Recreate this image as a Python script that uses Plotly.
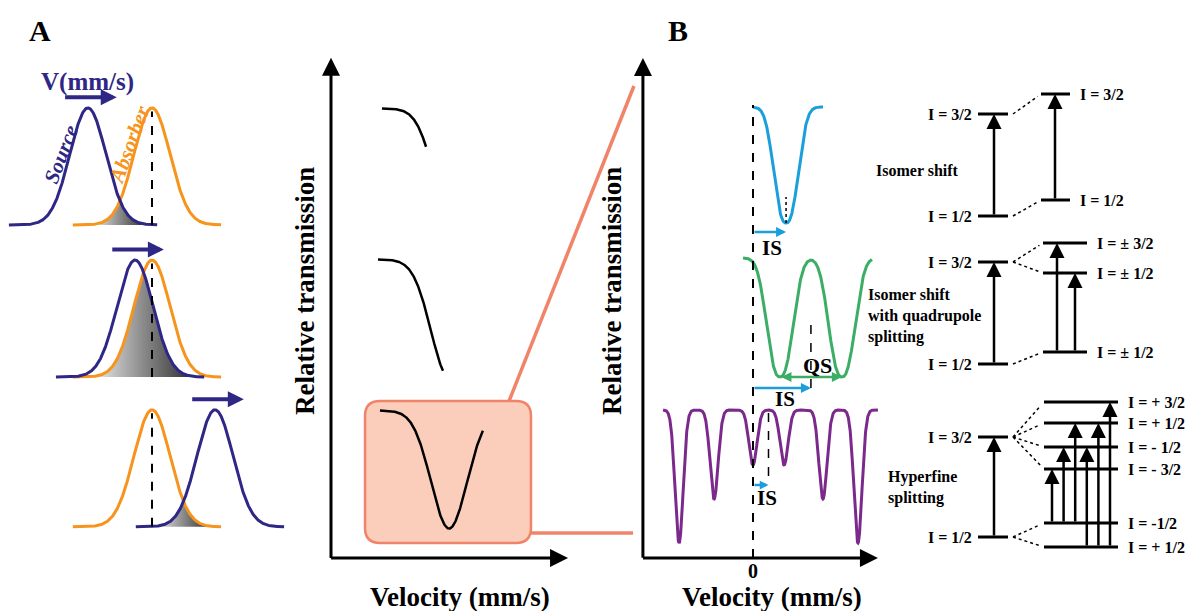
import numpy as np
import plotly.graph_objects as go

W, H = 1185, 611
SERIF = "Liberation Serif"

NAVY = "#2e2785"
ORANGE = "#f7941d"
SKY = "#1a9fdb"
GREEN = "#3cad64"
PURPLE = "#7b2a8c"
SALMON_FILL = "#fbcdbb"
SALMON_LINE = "#f08468"

# ---------------- Panel A: source / absorber line profiles (units of sigma)
PROFILE_SIGMA = 1.0
ABSORBER_CENTER = 0.0
SOURCE_CENTERS = [-3.56, -0.94, 3.50]
ROW_BASELINES = [3.30, 2.00, 0.72]
PROFILE_SPAN = (-4.4, 3.85)

# ---------------- Middle: transmission while the source velocity sweeps
SWEEP_BASELINES = [3.81, 2.53, 1.25]
SWEEP_CENTERS = [6.78, 6.56, 6.56]
SWEEP_STARTS = [2.83, 2.61, 2.72]
SWEEP_ENDS = [5.28, 6.22, 8.44]
SWEEP_DEPTH = 1.0
SWEEP_WIDTH = 1.0

# ---------------- Panel B: Moessbauer spectra (mm/s)
SINGLET_IS, SINGLET_DEPTH, SINGLET_BASE, SINGLET_HWHM = 1.89, 1.16, 4.51, 0.76
SINGLET_RANGE = (0.0, 4.0)
DOUBLET_IS, DOUBLET_QS, DOUBLET_DEPTH, DOUBLET_BASE, DOUBLET_HWHM = 3.31, 3.54, 1.19, 3.00, 0.82
DOUBLET_RANGE = (-0.57, 6.8)
SEXTET_IS, SEXTET_BASE, SEXTET_WIDTH = 0.886, 1.48, 0.23
SEXTET_OFFSETS = [-5.11, -3.11, -0.89, 0.89, 3.11, 5.11]
SEXTET_DEPTHS = [1.33, 0.89, 0.55, 0.55, 0.89, 1.33]
SEXTET_RANGE = (-5.14, 7.14)

# ---------------- Nuclear energy levels (arbitrary energy units)
DIAGRAMS = [
    dict(title="Isomer shift", ground=34.4, excited=44.6,
         split_ground=[36.0], ground_labels=["I = 1/2"],
         split_excited=[46.6], excited_labels=["I = 3/2"],
         transitions=[(0, 0)]),
    dict(title="Isomer shift<br>with quadrupole<br>splitting", ground=19.6, excited=29.8,
         split_ground=[20.8], ground_labels=["I = ± 1/2"],
         split_excited=[31.7, 28.7], excited_labels=["I = ± 3/2", "I = ± 1/2"],
         transitions=[(0, 0), (0, 1)]),
    dict(title="Hyperfine<br>splitting", ground=2.3, excited=12.3,
         split_ground=[3.7, 1.3], ground_labels=["I = -1/2", "I = + 1/2"],
         split_excited=[15.8, 13.7, 11.3, 9.1],
         excited_labels=["I = + 3/2", "I = + 1/2", "I = - 1/2", "I = - 3/2"],
         transitions=[(0, 3), (0, 2), (0, 1), (1, 2), (1, 1), (1, 0)]),
]

# ---------------- layout geometry (pixel origin and pixels per unit of each frame)
FRAMES = {
    "x": (152, 18.0), "y": (611, 117.0),     # panel A
    "x2": (331, 18.0), "y2": (558, 118.0),   # middle sweep
    "x3": (753, 17.5), "y3": (558, 100.0),   # panel B
    "x4": (860, 10.0), "y4": (560, 10.0),    # level diagrams
}
DIAGRAM_LAYOUT = [
    dict(right=(18.1, 21.0), first=1.4, step=1.8, title_x=1.4, title_y=39.0),
    dict(right=(18.3, 22.7), first=1.4, step=1.8, title_x=0.6, title_y=24.4),
    dict(right=(18.4, 25.8), first=0.8, step=1.16, title_x=2.6, title_y=7.3),
]
LEFT_SPAN = (11.8, 14.8)


def paper(px, py):
    return px / W, 1 - py / H


def gauss(x, c, s):
    return np.exp(-0.5 * ((x - c) / s) ** 2)


def flat_dip(x, c, hwhm, p=2.5):
    # line shape with flatter shoulders than a Gaussian
    return 2.0 ** (-(np.abs(x - c) / hwhm) ** p)


fig = go.Figure()


def line(x, y, ax, color="black", width=2.5, dash=None, **kw):
    fig.add_trace(go.Scatter(x=x, y=y, mode="lines", xaxis=ax[0], yaxis=ax[1],
                             line=dict(color=color, width=width, dash=dash),
                             hoverinfo="skip", showlegend=False, **kw))


annotations = []


def text(t, x, y, ref, size=16, color="black", **kw):
    d = dict(text=t, x=x, y=y, showarrow=False, xanchor="center", yanchor="middle",
             font=dict(family=SERIF, size=size, color=color))
    if ref == "paper":
        d.update(xref="paper", yref="paper")
    else:
        d.update(xref=ref[0], yref=ref[1])
    d.update(kw)
    annotations.append(d)


def arrow(x0, y0, x1, y1, ref, color="black", width=2.5, size=1.0, head=2, side="end"):
    annotations.append(dict(text="", x=x1, y=y1, ax=x0, ay=y0,
                            xref=ref[0], yref=ref[1], axref=ref[0], ayref=ref[1],
                            showarrow=True, arrowhead=head, arrowsize=size,
                            arrowwidth=width, arrowcolor=color, arrowside=side,
                            standoff=0, startstandoff=0))


A = ("x", "y")
M = ("x2", "y2")
B = ("x3", "y3")
E = ("x4", "y4")

# ---------------- Panel A
u = np.linspace(-9, 9, 1441)
for base, sc in zip(ROW_BASELINES, SOURCE_CENTERS):
    src = gauss(u, sc, PROFILE_SIGMA)
    ab = gauss(u, ABSORBER_CENTER, PROFILE_SIGMA)
    in_src = (u >= sc + PROFILE_SPAN[0]) & (u <= sc + PROFILE_SPAN[1])
    in_ab = (u >= ABSORBER_CENTER + PROFILE_SPAN[0]) & (u <= ABSORBER_CENTER + PROFILE_SPAN[1])
    ov = np.minimum(src, ab)
    m = in_src & in_ab & (ov > 0.004)
    xs = u[m]
    fig.add_trace(go.Scatter(
        x=np.concatenate([xs, xs[::-1]]),
        y=np.concatenate([base + ov[m], np.full(len(xs), base)]),
        mode="lines", fill="toself", line=dict(width=0), xaxis="x", yaxis="y",
        fillgradient=dict(type="horizontal",
                          colorscale=[[0, "#ececec"], [0.5, "#8a8a8a"], [1, "#2a2a2a"]]),
        hoverinfo="skip", showlegend=False))
    line(u[in_ab], base + ab[in_ab], A, color=ORANGE, width=3)
    line(u[in_src], base + src[in_src], A, color=NAVY, width=3)
    line([ABSORBER_CENTER, ABSORBER_CENTER], [base, base + 0.97], A, width=2, dash="dash")
    arrow(sc - 1.35, base + 1.09, sc + 1.6, base + 1.09, A, color=NAVY, width=4, size=0.8)

text("<b>V(mm/s)</b>", SOURCE_CENTERS[0] - 0.05, ROW_BASELINES[0] + 1.22, A, size=25, color=NAVY)
text("<b><i>Source</i></b>", SOURCE_CENTERS[0] - 1.5, ROW_BASELINES[0] + 0.61, A,
     size=21, color=NAVY, textangle=-69)
text("<b><i>Absorber</i></b>", ABSORBER_CENTER - 1.25, ROW_BASELINES[0] + 0.68, A,
     size=21, color=ORANGE, textangle=-70)

# ---------------- Middle panel: growing absorption as velocity is swept
BOX = dict(x0=1.89, x1=11.11, y0=0.127, y1=1.33, rx=0.83, ry=0.127)
b = BOX
box_path = (f"M {b['x0']+b['rx']},{b['y1']} L {b['x1']-b['rx']},{b['y1']} "
            f"Q {b['x1']},{b['y1']} {b['x1']},{b['y1']-b['ry']} "
            f"L {b['x1']},{b['y0']+b['ry']} Q {b['x1']},{b['y0']} {b['x1']-b['rx']},{b['y0']} "
            f"L {b['x0']+b['rx']},{b['y0']} Q {b['x0']},{b['y0']} {b['x0']},{b['y0']+b['ry']} "
            f"L {b['x0']},{b['y1']-b['ry']} Q {b['x0']},{b['y1']} {b['x0']+b['rx']},{b['y1']} Z")
shapes = [
    dict(type="path", path=box_path, xref="x2", yref="y2", fillcolor=SALMON_FILL,
         line=dict(color=SALMON_LINE, width=2.5), layer="below"),
    dict(type="line", xref="x2", yref="y2", x0=9.89, y0=1.33, x1=16.83, y1=4.0,
         line=dict(color=SALMON_LINE, width=3.5), layer="below"),
    dict(type="line", xref="x2", yref="y2", x0=11.11, y0=0.212, x1=16.78, y1=0.212,
         line=dict(color=SALMON_LINE, width=3.5), layer="below"),
]

for base, c, s0, s1 in zip(SWEEP_BASELINES, SWEEP_CENTERS, SWEEP_STARTS, SWEEP_ENDS):
    uu = np.linspace(s0, s1, 300)
    line(uu, base - SWEEP_DEPTH * gauss(uu, c, SWEEP_WIDTH), M, width=2.5)

arrow(0, -0.012, 0, 4.24, M, width=3, size=1.2)
arrow(-0.08, 0, 13.17, 0, M, width=3, size=1.2)

# ---------------- Panel B: spectra
v = np.linspace(*SINGLET_RANGE, 400)
line(v, SINGLET_BASE - SINGLET_DEPTH * flat_dip(v, SINGLET_IS, SINGLET_HWHM), B, color=SKY, width=3)

v = np.linspace(*DOUBLET_RANGE, 700)
dbl = (flat_dip(v, DOUBLET_IS - DOUBLET_QS / 2, DOUBLET_HWHM)
       + flat_dip(v, DOUBLET_IS + DOUBLET_QS / 2, DOUBLET_HWHM))
line(v, DOUBLET_BASE - DOUBLET_DEPTH * dbl, B, color=GREEN, width=3)

v = np.linspace(*SEXTET_RANGE, 1500)
sx = sum(d * gauss(v, SEXTET_IS + o, SEXTET_WIDTH) for o, d in zip(SEXTET_OFFSETS, SEXTET_DEPTHS))
line(v, SEXTET_BASE - sx, B, color=PURPLE, width=3)

line([0, 0], [0, 4.53], B, width=2, dash="dash")

# isomer-shift markers
s_min = SINGLET_BASE - SINGLET_DEPTH
line([SINGLET_IS, SINGLET_IS], [s_min, s_min + 0.26], B, width=1.5, dash="dot")
arrow(0, s_min - 0.09, SINGLET_IS, s_min - 0.09, B, color=SKY, width=2.5, size=0.8)
text("<b>IS</b>", SINGLET_IS - 0.8, s_min - 0.25, B, size=21)

d_min = DOUBLET_BASE - DOUBLET_DEPTH
line([DOUBLET_IS, DOUBLET_IS], [d_min - 0.11, d_min + 0.6], B, width=1.5, dash="dash")
arrow(0, d_min - 0.11, DOUBLET_IS, d_min - 0.11, B, color=SKY, width=2.5, size=0.8)
arrow(DOUBLET_IS - DOUBLET_QS / 2, d_min, DOUBLET_IS + DOUBLET_QS / 2, d_min, B,
      color=GREEN, width=2.5, size=0.8, side="end+start")
text("<b>QS</b>", DOUBLET_IS + 0.35, d_min + 0.12, B, size=22)
text("<b>IS</b>", DOUBLET_IS - 1.48, d_min - 0.22, B, size=21)

x_min = SEXTET_BASE - max(SEXTET_DEPTHS[2:4])
line([SEXTET_IS, SEXTET_IS], [SEXTET_BASE - 0.03, x_min - 0.18], B, width=1.5, dash="dash")
arrow(0, x_min - 0.2, SEXTET_IS, x_min - 0.2, B, color=SKY, width=2.5, size=0.7)
text("<b>IS</b>", SEXTET_IS - 0.09, x_min - 0.33, B, size=21)

text("<b>0</b>", 0, -0.13, B, size=20)
arrow(-6.29, -0.012, -6.29, 5.0, B, width=3, size=1.2)
arrow(-6.37, 0, 7.14, 0, B, width=3, size=1.2)

# ---------------- Energy level diagrams
for dg, lay in zip(DIAGRAMS, DIAGRAM_LAYOUT):
    lx0, lx1 = LEFT_SPAN
    rx0, rx1 = lay["right"]
    xs, ys = [], []
    for e in (dg["ground"], dg["excited"]):
        xs += [lx0, lx1, None]
        ys += [e, e, None]
    for e in dg["split_ground"] + dg["split_excited"]:
        xs += [rx0, rx1, None]
        ys += [e, e, None]
    line(xs, ys, E, width=3)

    text("<b>I = 1/2</b>", lx0 - 0.4, dg["ground"], E, size=16, xanchor="right")
    text("<b>I = 3/2</b>", lx0 - 0.4, dg["excited"], E, size=16, xanchor="right")
    for e, lab in zip(dg["split_ground"] + dg["split_excited"],
                      dg["ground_labels"] + dg["excited_labels"]):
        text(f"<b>{lab}</b>", rx1 + 0.8, e, E, size=16, xanchor="left")

    # unperturbed transition
    arrow(13.4, dg["ground"], 13.4, dg["excited"], E, width=2.5, size=1.2)
    # split transitions
    for k, (gi, ei) in enumerate(dg["transitions"]):
        xk = rx0 + lay["first"] + k * lay["step"]
        arrow(xk, dg["split_ground"][gi], xk, dg["split_excited"][ei], E, width=2.5, size=1.2)

    # dotted correlation lines between unsplit and split levels
    cx, cy = [], []
    for e0, targets in ((dg["ground"], dg["split_ground"]), (dg["excited"], dg["split_excited"])):
        for et in targets:
            t = 0.88
            cx += [lx1 + 0.5, lx1 + 0.5 + t * (rx0 - lx1 - 0.5), None]
            cy += [e0, e0 + t * (et - e0), None]
    line(cx, cy, E, width=1.5, dash="dot")

    text(f"<b>{dg['title']}</b>", lay["title_x"], lay["title_y"], E, size=16,
         xanchor="left", align="left")

# ---------------- panel letters and axis titles
for lab, (px, py) in (("A", (40, 30)), ("B", (678, 30))):
    x, y = paper(px, py)
    text(f"<b>{lab}</b>", x, y, "paper", size=30)
for px in (305, 612):
    x, y = paper(px, 291)
    text("<b>Relative transmission</b>", x, y, "paper", size=27, textangle=-90)
for px in (460, 772):
    x, y = paper(px, 597)
    text("<b>Velocity (mm/s)</b>", x, y, "paper", size=27)

layout = dict(width=W, height=H, margin=dict(l=0, r=0, t=0, b=0),
              paper_bgcolor="white", plot_bgcolor="rgba(0,0,0,0)",
              showlegend=False, annotations=annotations, shapes=shapes)
for i, (xa, ya) in enumerate((("x", "y"), ("x2", "y2"), ("x3", "y3"), ("x4", "y4"))):
    x0, kx = FRAMES[xa]
    y0, ky = FRAMES[ya]
    suffix = "" if i == 0 else str(i + 1)
    layout["xaxis" + suffix] = dict(domain=[0, 1], range=[(0 - x0) / kx, (W - x0) / kx],
                                    visible=False, fixedrange=True,
                                    anchor="y" + suffix)
    layout["yaxis" + suffix] = dict(domain=[0, 1], range=[(y0 - H) / ky, y0 / ky],
                                    visible=False, fixedrange=True,
                                    anchor="x" + suffix)
fig.update_layout(**layout)
fig.write_html("out.html")
